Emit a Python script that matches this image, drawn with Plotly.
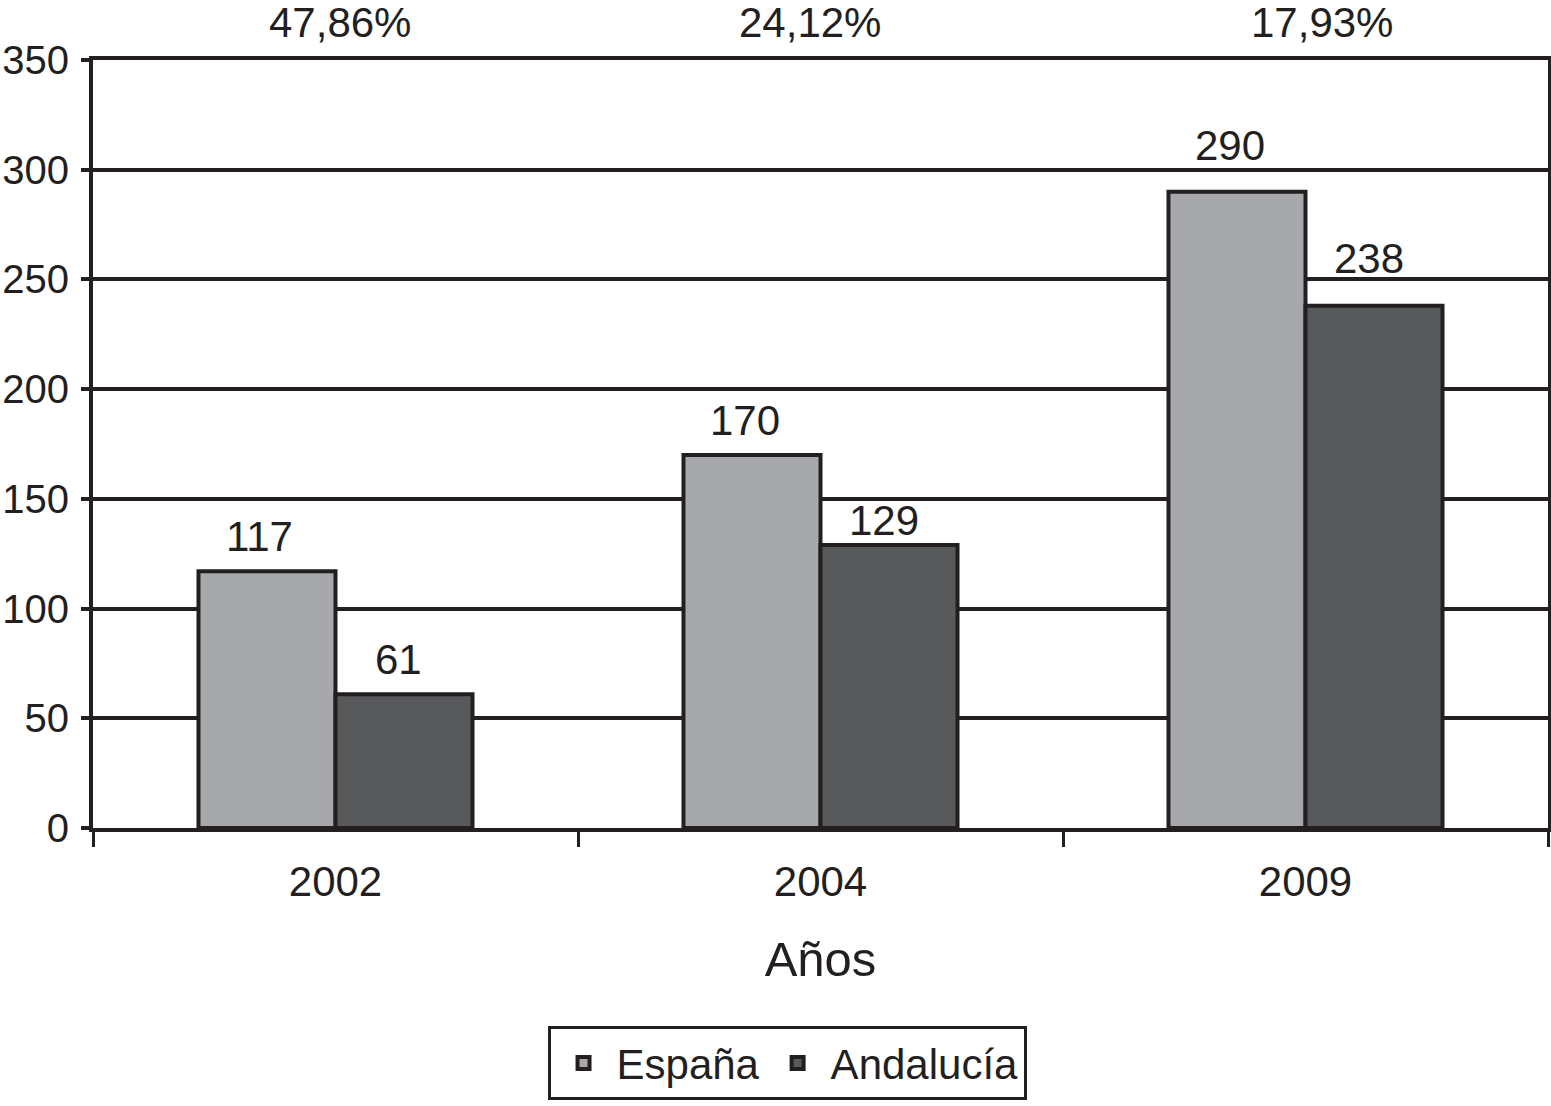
import plotly.graph_objects as go

years = ["2002", "2004", "2009"]
espana = [117, 170, 290]
andalucia = [61, 129, 238]
percent_labels = ["47,86%", "24,12%", "17,93%"]
y_ticks = [0, 50, 100, 150, 200, 250, 300, 350]

# label placement tweaks (pixels), not data
esp_lift = [9, 9, 21]
and_lift = [9, -1, 22]
pct_shift = [4, -11, 16]

INK = "#231f20"
FONT = "Liberation Sans, Arial, sans-serif"
FS = 42
LW = 4

fig = go.Figure()
fig.add_trace(go.Bar(name="España", x=years, y=espana,
                     marker=dict(color="#a7a8ab", line=dict(color=INK, width=LW))))
fig.add_trace(go.Bar(name="Andalucía", x=years, y=andalucia,
                     marker=dict(color="#58595b", line=dict(color=INK, width=LW))))

# value labels above bars (category axis -> annotation x is the category index)
for i, v in enumerate(espana):
    fig.add_annotation(x=i, y=v, text=str(v), showarrow=False, xshift=-76,
                       yanchor="bottom", yshift=esp_lift[i],
                       font=dict(size=FS, color=INK, family=FONT))
for i, v in enumerate(andalucia):
    fig.add_annotation(x=i, y=v, text=str(v), showarrow=False, xshift=63,
                       yanchor="bottom", yshift=and_lift[i],
                       font=dict(size=FS, color=INK, family=FONT))
# percentages above plot
for i, p in enumerate(percent_labels):
    fig.add_annotation(x=i, y=1, yref="paper", text=p, showarrow=False, xshift=pct_shift[i],
                       yanchor="bottom", yshift=12, font=dict(size=FS, color=INK, family=FONT))

fig.update_layout(
    width=1551, height=1106,
    margin=dict(l=93, r=3, t=60, b=278, autoexpand=False),
    paper_bgcolor="white", plot_bgcolor="white",
    barmode="group", bargap=0.435, bargroupgap=0,
    font=dict(family=FONT, size=FS, color=INK),
    showlegend=True,
    legend=dict(orientation="h", x=0.477, xanchor="center", y=-0.258, yanchor="top",
                bordercolor=INK, borderwidth=3, font=dict(size=FS, color=INK),
                itemwidth=56, bgcolor="white"),
)
fig.update_xaxes(type="category", range=[-0.5, 2.5], tickson="boundaries",
                 ticks="outside", ticklen=15, tickwidth=3, tickcolor=INK,
                 showline=True, linewidth=LW, linecolor=INK, mirror=True, showgrid=False,
                 ticklabelstandoff=14,
                 tickfont=dict(size=FS, color=INK),
                 title=dict(text="Años", font=dict(size=49, color=INK), standoff=38))
fig.update_yaxes(range=[0, 350], tickmode="array", tickvals=y_ticks,
                 ticks="outside", ticklen=8, tickwidth=LW, tickcolor=INK,
                 showline=True, linewidth=LW, linecolor=INK, mirror=True,
                 showgrid=True, gridcolor=INK, gridwidth=LW, zeroline=False,
                 ticklabelstandoff=4, tickfont=dict(size=40, color=INK))

fig.write_html("out.html", config={"displayModeBar": False},
               post_script="document.body.style.margin='0';document.body.style.overflow='hidden';")
